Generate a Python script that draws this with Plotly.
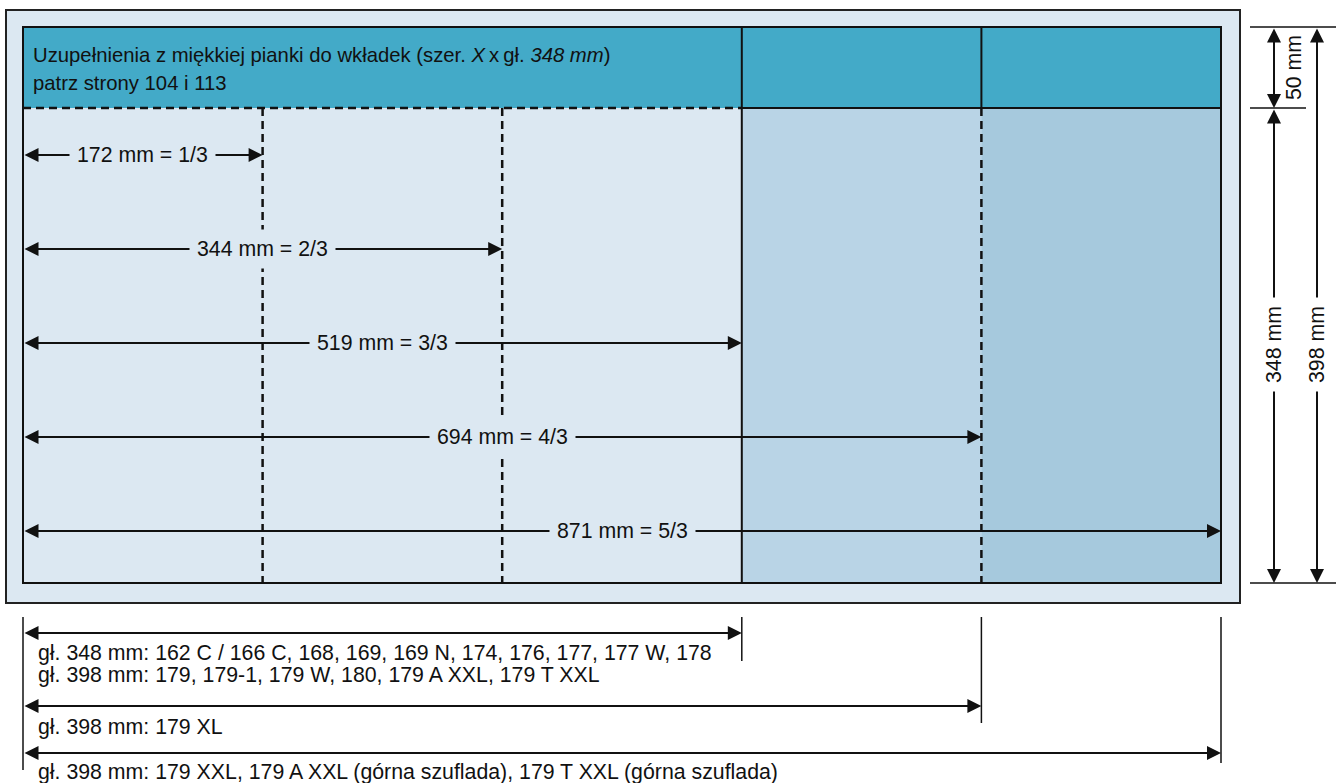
import plotly.graph_objects as go

# dimensions of the insert (mm) and their share of the drawer width
widths_mm = [172, 344, 519, 694, 871]
fractions = ["1/3", "2/3", "3/3", "4/3", "5/3"]
header_mm = 50
body_mm = 348
total_mm = 398

header_lines = [
    "Uzupełnienia z miękkiej pianki do wkładek (szer. <i>X</i>\u2009x\u2009gł. <i>348 mm</i>)",
    "patrz strony 104 i 113",
]

# drawers below: how many thirds the drawer spans, and the text rows under it
drawer_spans = [3, 4, 5]
drawer_texts = [
    ["gł. 348 mm: 162 C / 166 C, 168, 169, 169 N, 174, 176, 177, 177 W, 178",
     "gł. 398 mm: 179, 179-1, 179 W, 180, 179 A XXL, 179 T XXL"],
    ["gł. 398 mm: 179 XL"],
    ["gł. 398 mm: 179 XXL, 179 A XXL (górna szuflada), 179 T XXL (górna szuflada)"],
]

# layout in page pixels
X0 = 23
THIRD = 239.6
TOP, HDR, BOT = 27, 108, 583
ROW0, ROWSTEP = 155, 94

LIGHT = "#dce8f2"
COL4 = "#b9d4e6"
COL5 = "#a6c9dd"
HEAD = "#43aac8"
INK = "#111111"
FONT = "Liberation Sans, Arial, sans-serif"


def xt(i):
    return X0 + i * THIRD


fig = go.Figure()
fig.add_trace(go.Scatter(x=[0], y=[0], mode="markers", marker=dict(opacity=0), hoverinfo="skip", showlegend=False))

shapes = []
annos = []


def line(x0, y0, x1, y1, dash="solid", w=2):
    shapes.append(dict(type="line", x0=x0, y0=y0, x1=x1, y1=y1, xref="x", yref="y",
                       line=dict(color=INK, width=w, dash=dash)))


def arrow(x0, y0, x1, y1, both=True):
    annos.append(dict(x=x1, y=y1, ax=x0, ay=y0, xref="x", yref="y", axref="x", ayref="y",
                      text="", showarrow=True, arrowhead=2, startarrowhead=2, arrowsize=1.4,
                      startarrowsize=1.4, arrowwidth=2, arrowcolor=INK,
                      arrowside="end+start" if both else "end"))


def label(x, y, text, bg=None, anchor="center", angle=0, pad=7, size=21.3):
    annos.append(dict(x=x, y=y, xref="x", yref="y", text=text, showarrow=False,
                      xanchor=anchor, yanchor="middle", textangle=angle,
                      bgcolor=bg, borderpad=pad, font=dict(family=FONT, size=size, color=INK)))


# outer tray
shapes.append(dict(type="rect", x0=6, x1=1240, y0=10, y1=603, fillcolor=LIGHT,
                   line=dict(color="#222222", width=2), layer="below"))
# body columns
shapes.append(dict(type="rect", x0=xt(3), x1=xt(4), y0=HDR, y1=BOT, fillcolor=COL4, line_width=0, layer="below"))
shapes.append(dict(type="rect", x0=xt(4), x1=xt(5), y0=HDR, y1=BOT, fillcolor=COL5, line_width=0, layer="below"))
# header band
shapes.append(dict(type="rect", x0=xt(0), x1=xt(5), y0=TOP, y1=HDR, fillcolor=HEAD, line_width=0, layer="below"))
# inner border
shapes.append(dict(type="rect", x0=xt(0), x1=xt(5), y0=TOP, y1=BOT, line=dict(color=INK, width=2)))

DASH = "8px,5px"
line(xt(0), HDR, xt(3), HDR, dash=DASH, w=2.5)
line(xt(3), HDR, xt(5), HDR)
line(xt(3), TOP, xt(3), BOT)
line(xt(4), TOP, xt(4), HDR)
for i in [1, 2, 4]:
    line(xt(i), HDR, xt(i), BOT, dash=DASH, w=2.5)

# header text
label(X0 + 9, 55, header_lines[0], anchor="left", pad=0, size=20.3)
label(X0 + 9, 83, header_lines[1], anchor="left", pad=0, size=20.3)

# width arrows inside the drawer
for k, (mm, fr) in enumerate(zip(widths_mm, fractions)):
    y = ROW0 + k * ROWSTEP
    arrow(xt(0), y, xt(k + 1), y)
    bg = LIGHT if (k + 1) / 2 < 3 else COL4
    label(xt((k + 1) / 2), y, f"{mm} mm = {fr}", bg=bg)

# height dimensions on the right
line(1250, TOP, 1336, TOP, w=1.5)
line(1250, HDR, 1306, HDR, w=1.5)
line(1250, BOT, 1336, BOT, w=1.5)
arrow(1274, TOP, 1274, HDR)
arrow(1274, HDR, 1274, BOT)
arrow(1317, TOP, 1317, BOT)
label(1294, 68, f"{header_mm} mm", angle=-90, pad=0)
label(1274, 345, f"{body_mm} mm", bg="white", angle=-90, pad=8)
label(1317, 345, f"{total_mm} mm", bg="white", angle=-90, pad=8)

# drawer list below
line(xt(0), 617, xt(0), 770, w=1.5)
ends = [661, 723, 763]
arrow_y = [633, 706, 753]
text_y = [[653, 675], [727], [772]]
for span, texts, ay, ty, ye in zip(drawer_spans, drawer_texts, arrow_y, text_y, ends):
    arrow(xt(0), ay, xt(span), ay)
    line(xt(span), 617, xt(span), ye, w=1.5)
    for t, yy in zip(texts, ty):
        label(X0 + 14, yy, t, anchor="left", pad=0)

fig.update_layout(
    width=1336, height=783,
    margin=dict(l=0, r=0, t=0, b=0),
    paper_bgcolor="white", plot_bgcolor="white",
    xaxis=dict(range=[0, 1336], visible=False, fixedrange=True),
    yaxis=dict(range=[783, 0], visible=False, fixedrange=True),
    shapes=shapes, annotations=annos, showlegend=False,
)

fig.write_html("out.html", config={"displayModeBar": False},
               post_script="document.body.style.margin='0';")
